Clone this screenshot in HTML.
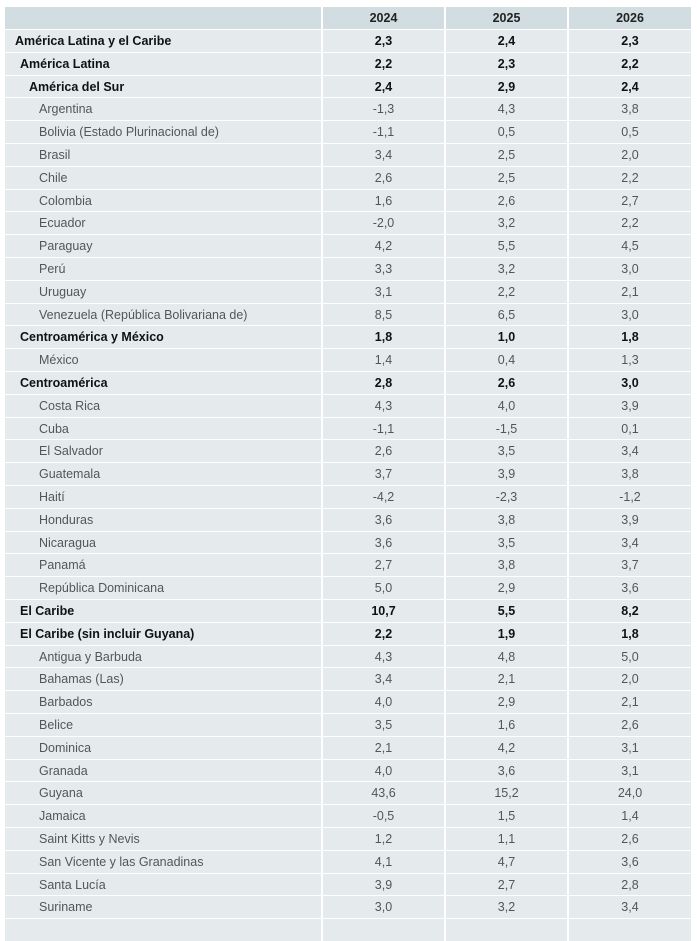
<!DOCTYPE html>
<html><head><meta charset="utf-8">
<style>
html,body{margin:0;padding:0;background:#fff;width:697px;height:922px;overflow:hidden}
#t{position:absolute;left:5px;top:7px;width:686px}
.r{position:absolute;left:0;width:686px;height:21.8px;font-family:"Liberation Sans Narrow","Liberation Sans",sans-serif;font-size:12.5px;color:#555}
.r div{position:absolute;top:0;height:100%;line-height:22px;background:#e5ebed}
.r.h div{background:#d2dde2;color:#222;font-weight:bold}
.r.b{color:#111;font-weight:bold}
.c0{left:0;width:316px}
.c1{left:318px;width:121px;text-align:center}
.c2{left:441px;width:121px;text-align:center}
.c3{left:564px;width:122px;text-align:center}
.c0 span{position:absolute}
</style></head><body>
<div id="t"></div>
<script>
const years=["2024","2025","2026"];
const labels=["América Latina y el Caribe","América Latina","América del Sur","Argentina","Bolivia (Estado Plurinacional de)","Brasil","Chile","Colombia","Ecuador","Paraguay","Perú","Uruguay","Venezuela (República Bolivariana de)","Centroamérica y México","México","Centroamérica","Costa Rica","Cuba","El Salvador","Guatemala","Haití","Honduras","Nicaragua","Panamá","República Dominicana","El Caribe","El Caribe (sin incluir Guyana)","Antigua y Barbuda","Bahamas (Las)","Barbados","Belice","Dominica","Granada","Guyana","Jamaica","Saint Kitts y Nevis","San Vicente y las Granadinas","Santa Lucía","Suriname",""];
const levels=[0,1,2,3,3,3,3,3,3,3,3,3,3,1,3,1,3,3,3,3,3,3,3,3,3,1,1,3,3,3,3,3,3,3,3,3,3,3,3,3];
const v2024=["2,3","2,2","2,4","-1,3","-1,1","3,4","2,6","1,6","-2,0","4,2","3,3","3,1","8,5","1,8","1,4","2,8","4,3","-1,1","2,6","3,7","-4,2","3,6","3,6","2,7","5,0","10,7","2,2","4,3","3,4","4,0","3,5","2,1","4,0","43,6","-0,5","1,2","4,1","3,9","3,0",""];
const v2025=["2,4","2,3","2,9","4,3","0,5","2,5","2,5","2,6","3,2","5,5","3,2","2,2","6,5","1,0","0,4","2,6","4,0","-1,5","3,5","3,9","-2,3","3,8","3,5","3,8","2,9","5,5","1,9","4,8","2,1","2,9","1,6","4,2","3,6","15,2","1,5","1,1","4,7","2,7","3,2",""];
const v2026=["2,3","2,2","2,4","3,8","0,5","2,0","2,2","2,7","2,2","4,5","3,0","2,1","3,0","1,8","1,3","3,0","3,9","0,1","3,4","3,8","-1,2","3,9","3,4","3,7","3,6","8,2","1,8","5,0","2,0","2,1","2,6","3,1","3,1","24,0","1,4","2,6","3,6","2,8","3,4",""];
const indent=[10,15,24,34];
const t=document.getElementById('t');
function mk(cls,top){const r=document.createElement('div');r.className='r '+cls;r.style.top=top+'px';t.appendChild(r);return r;}
const h=mk('h',0);


h.innerHTML='<div class="c0"></div><div class="c1">'+years[0]+'</div><div class="c2">'+years[1]+'</div><div class="c3">'+years[2]+'</div>';
labels.forEach((lab,i)=>{
  const r=mk(levels[i]<3?'b':'',23+i*22.8);
  
  
  r.innerHTML='<div class="c0"><span style="left:'+indent[levels[i]]+'px">'+lab+'</span></div><div class="c1">'+v2024[i]+'</div><div class="c2">'+v2025[i]+'</div><div class="c3">'+v2026[i]+'</div>';
});
</script>
</body></html>
